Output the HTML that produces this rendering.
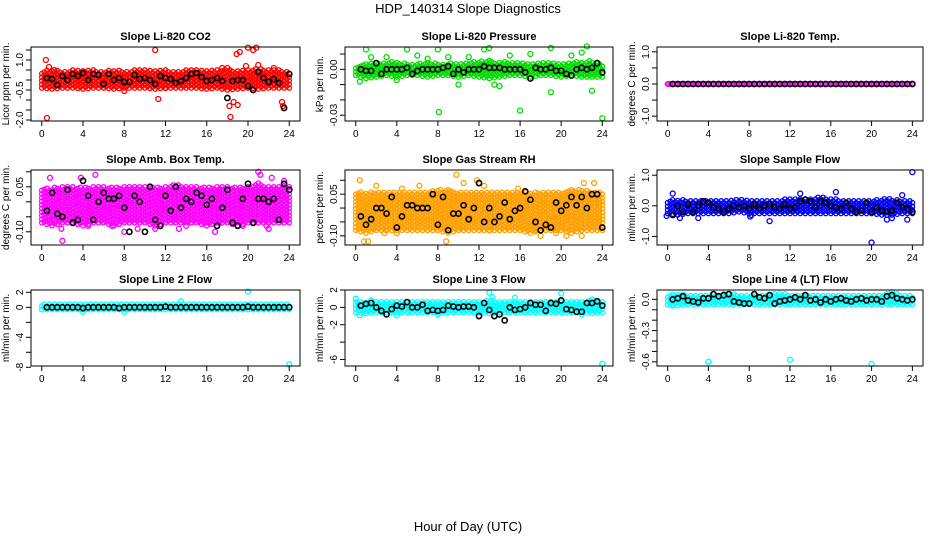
<!DOCTYPE html>
<html><head><meta charset="utf-8"><style>
html,body{margin:0;padding:0;background:#fff;}
svg{display:block;font-family:"Liberation Sans",Arial,sans-serif;}
</style></head><body>
<svg id="chart" width="936" height="540" viewBox="0 0 936 540">
<text x="468" y="13" text-anchor="middle" font-size="13">HDP_140314  Slope Diagnostics</text>
<text x="468" y="531" text-anchor="middle" font-size="13">Hour of Day (UTC)</text>
</svg>
<script>
// ---- data ----
const xTicks=[0,4,8,12,16,20,24];
// P1 CO2
const co2Black=[0.1,0.05,-0.25,0.2,0.0,0.3,0.2,0.35,0.0,0.3,0.25,-0.2,0.3,0.0,0.1,-0.1,-0.1,0.25,0.05,0.1,0.0,-0.2,0.2,0.1,0.05,-0.15,-0.05,0.1,0.3,0.35,0.15,-0.05,0.0,0.1,-0.05,-0.9,-0.05,0.0,0.0,-0.3,-0.5,0.4,0.1,-0.1,0.05,-0.15,-1.4,0.3];
const co2Lo=[-0.4,-0.45,-0.4,-0.4,-0.45,-0.4,-0.4,-0.45,-0.4,-0.4,-0.4,-0.45,-0.4,-0.4,-0.4,-0.4,-0.45,-0.4,-0.5,-0.45,-0.4,-0.45,-0.4,-0.4,-0.4];
const co2Hi=[0.45,0.5,0.45,0.5,0.45,0.5,0.45,0.5,0.45,0.5,0.5,0.45,0.5,0.45,0.5,0.5,0.45,0.5,0.55,0.5,0.5,0.6,0.5,0.5,0.45];
const co2OutX=[0.4,0.5,0.7,11,11.3,18,18.2,18.3,18.6,19,18.9,19.2,19.8,20,20.5,20.8,21,23.3,23.4,22.5,12,8,1.2,17.5];
const co2OutY=[1.0,-1.9,0.65,1.5,-0.95,0.6,-1.3,-1.85,-1.1,-1.25,1.3,1.4,0.7,1.62,1.5,1.62,0.75,-1.1,-1.3,0.6,-0.4,-0.55,0.5,0.6];
// P2 Pressure
const presBlack=[0,-0.001,-0.001,0.004,-0.003,0,0,0,0,0.001,-0.003,-0.001,0,0,0,0,0.001,0.002,-0.003,0,-0.002,0,0,0,0.002,0.001,0.001,0.001,0,0,0,0,-0.002,-0.006,0.001,0,0,0.001,-0.001,-0.001,-0.003,-0.004,0,0.001,0,0.001,0.004,-0.002];
const presLo=[-0.004,-0.006,-0.005,-0.004,-0.005,-0.004,-0.004,-0.005,-0.004,-0.004,-0.005,-0.004,-0.005,-0.006,-0.005,-0.004,-0.004,-0.005,-0.004,-0.004,-0.005,-0.004,-0.005,-0.005,-0.005];
const presHi=[0.003,0.004,0.004,0.005,0.005,0.004,0.004,0.005,0.004,0.004,0.004,0.005,0.006,0.006,0.005,0.005,0.005,0.004,0.005,0.005,0.004,0.005,0.005,0.006,0.004];
const presOutX=[8.1,16,24,1,5,8,12.5,13,19,22.5,0.4,4,19,23,10,13.5,14,1.5,3,6,9,15,17,21,22,11,7];
const presOutY=[-0.028,-0.027,-0.032,0.013,0.013,0.013,0.013,0.014,0.014,0.015,-0.008,-0.007,-0.015,-0.014,-0.01,-0.01,-0.011,0.008,0.008,0.009,0.008,0.009,0.01,0.009,0.011,0.008,0.007];
// P3 Temp
const tempBlack=[0,0,0,0,0,0,0,0,0,0,0,0,0,0,0,0,0,0,0,0,0,0,0,0,0,0,0,0,0,0,0,0,0,0,0,0,0,0,0,0,0,0,0,0,0,0,0,0];
const tempLo=[0,0,0,0,0,0,0,0,0,0,0,0,0,0,0,0,0,0,0,0,0,0,0,0,0];
const tempHi=[0,0,0,0,0,0,0,0,0,0,0,0,0,0,0,0,0,0,0,0,0,0,0,0,0];
const tempOutX=[0.1];
const tempOutY=[0];
// P4 Amb box temp
const ambBlack=[-0.03,0.03,-0.04,-0.05,0.04,-0.07,-0.06,0.07,0.02,-0.06,0.0,0.03,0.01,0.01,0.02,-0.02,-0.1,0.02,0.0,-0.1,0.05,-0.06,-0.08,0.02,-0.03,0.05,-0.02,0.01,0.0,0.03,0.02,-0.01,0.01,-0.08,-0.02,0.04,-0.07,-0.08,0.01,0.06,-0.07,0.01,0.01,0.0,0.01,-0.06,0.06,0.04];
const ambLo=[-0.07,-0.08,-0.07,-0.07,-0.08,-0.07,-0.07,-0.08,-0.07,-0.07,-0.07,-0.08,-0.07,-0.07,-0.07,-0.07,-0.08,-0.07,-0.07,-0.08,-0.07,-0.07,-0.07,-0.07,-0.07];
const ambHi=[0.04,0.05,0.05,0.05,0.05,0.05,0.05,0.05,0.05,0.05,0.05,0.05,0.05,0.06,0.05,0.05,0.05,0.05,0.05,0.05,0.05,0.07,0.05,0.05,0.05];
const ambOutX=[0.8,1.9,2.0,3.8,5.2,6.8,8,9.3,11,13.3,14,16.8,17,17.2,21,21.2,21.8,22,22.3,23.5,4.5,19.5];
const ambOutY=[0.08,-0.09,-0.13,0.08,0.09,-0.08,-0.1,-0.09,-0.09,-0.09,-0.08,-0.1,-0.08,-0.07,0.1,0.09,-0.08,-0.09,0.08,0.07,-0.08,-0.08];
// P5 Gas stream RH
const rhBlack=[-0.03,-0.06,-0.04,0.0,0.0,-0.02,0.04,-0.07,-0.03,0.01,0.01,0.0,0.0,0.0,0.05,-0.06,0.04,-0.08,-0.02,-0.02,0.01,-0.04,0.0,0.09,-0.05,0.0,-0.05,-0.03,0.02,-0.04,-0.01,0.0,0.06,0.03,-0.05,-0.08,-0.06,-0.07,0.02,-0.01,0.01,0.04,0.01,0.04,0.0,0.05,0.05,-0.07];
const rhLo=[-0.08,-0.09,-0.08,-0.08,-0.08,-0.08,-0.08,-0.08,-0.08,-0.09,-0.08,-0.08,-0.08,-0.08,-0.08,-0.08,-0.08,-0.09,-0.08,-0.08,-0.08,-0.09,-0.08,-0.08,-0.08];
const rhHi=[0.06,0.06,0.06,0.06,0.06,0.06,0.06,0.06,0.07,0.07,0.06,0.06,0.06,0.06,0.06,0.06,0.06,0.06,0.06,0.06,0.06,0.07,0.07,0.06,0.06];
const rhOutX=[0.4,0.8,1.2,2,2.8,4,6.2,8.8,9.8,10.5,11.8,12.5,15.8,17.5,18,19.5,20.5,22,22.2,23.2,4.5,13,3];
const rhOutY=[0.1,-0.12,-0.12,0.08,-0.09,-0.09,0.08,-0.12,0.12,0.09,0.1,0.08,0.07,-0.08,-0.1,-0.09,-0.1,-0.1,0.09,0.09,0.07,-0.08,-0.08];
// P6 Sample flow
const sfBlack=[-0.3,0.0,-0.2,0.05,-0.2,0.0,0.15,0.1,-0.05,-0.1,-0.2,-0.1,0.0,-0.05,0.0,-0.1,0.05,-0.1,0.0,0.05,-0.05,-0.1,0.05,-0.1,-0.05,0.15,0.2,0.15,-0.05,0.15,0.1,0.0,-0.05,-0.1,0.1,-0.1,-0.2,-0.15,0.1,-0.2,-0.05,-0.15,-0.2,-0.15,0.1,-0.05,-0.1,-0.2];
const sfLo=[-0.25,-0.3,-0.25,-0.25,-0.25,-0.25,-0.25,-0.2,-0.25,-0.25,-0.25,-0.25,-0.25,-0.25,-0.25,-0.25,-0.25,-0.25,-0.25,-0.25,-0.25,-0.3,-0.3,-0.25,-0.25];
const sfHi=[0.2,0.2,0.2,0.2,0.2,0.2,0.2,0.2,0.2,0.2,0.2,0.2,0.25,0.25,0.25,0.3,0.25,0.2,0.2,0.2,0.2,0.25,0.25,0.2,0.2];
const sfOutX=[24,20,10,0.5,-0.1,8.1,8.2,13,16.5,23,1.2,3,21.5,22,23.5];
const sfOutY=[1.1,-1.2,-0.5,0.4,-0.33,-0.35,-0.3,0.4,0.45,0.35,-0.4,-0.4,-0.45,-0.4,-0.45];
// P7 Line 2 flow
const l2Black=[0,0,0,0,0,0,0,-0.1,0,0,0,0,0,0,-0.1,0,0,0,0,0,0,0,0,0.1,0,0,0,0,0,0,0,0,0,0,0,0,0,0,0,0.1,0,0,0,0,0,0,0,0];
const l2Lo=[-0.3,-0.3,-0.3,-0.3,-0.3,-0.3,-0.3,-0.3,-0.3,-0.3,-0.3,-0.3,-0.3,-0.3,-0.3,-0.3,-0.3,-0.3,-0.3,-0.3,-0.3,-0.3,-0.3,-0.3,-0.3];
const l2Hi=[0.5,0.5,0.5,0.5,0.5,0.6,0.5,0.5,0.5,0.6,0.6,0.6,0.5,0.5,0.5,0.5,0.5,0.5,0.6,0.5,0.5,0.5,0.5,0.5,0.5];
const l2OutX=[20,24,4,8,13.5];
const l2OutY=[2.1,-7.6,-0.6,-0.6,0.8];
// P8 Line 3 flow
const l3Black=[0.2,0.4,0.5,0.0,-0.4,-0.8,-0.2,0.2,0.1,0.6,0.0,0.0,0.3,-0.4,-0.3,-0.4,-0.3,0.2,0.1,0.0,0.1,0.1,0.0,-1.0,0.5,-0.3,-1.0,-0.8,-1.5,0.0,-0.3,-0.2,0.0,0.5,0.3,0.3,-0.4,0.5,0.4,0.8,-0.2,-0.3,-0.5,-0.5,0.5,0.5,0.7,0.2];
const l3Lo=[-0.6,-0.7,-0.6,-0.6,-0.6,-0.6,-0.6,-0.6,-0.6,-0.6,-0.6,-0.6,-0.6,-0.7,-0.6,-0.6,-0.6,-0.6,-0.6,-0.6,-0.6,-0.6,-0.6,-0.7,-0.6];
const l3Hi=[0.7,0.7,0.7,0.7,0.7,0.7,0.7,0.7,0.7,0.7,0.7,0.7,0.7,0.8,0.7,0.7,0.7,0.7,0.7,0.7,0.7,0.7,0.8,0.8,0.7];
const l3OutX=[24,13,20,0,0.4,4,13.3,15.5,22,23,1.5,8];
const l3OutY=[-6.5,1.7,1.6,1.0,-0.9,-0.9,1.2,1.1,-0.8,0.9,0.8,-0.8];
// P9 Line 4 flow
const l4Black=[0.0,0.01,0.03,-0.01,-0.02,-0.03,0.01,0.01,0.05,0.03,0.04,0.05,-0.02,-0.03,-0.04,-0.04,0.05,0.02,0.01,0.04,-0.04,-0.02,-0.01,0.0,0.02,0.0,0.04,-0.01,0.0,-0.03,0.0,-0.02,0.0,0.01,-0.01,-0.02,0.0,0.01,-0.01,0.0,0.0,-0.02,0.03,0.04,0.01,0.0,-0.01,0.0];
const l4Lo=[-0.05,-0.06,-0.05,-0.05,-0.05,-0.05,-0.05,-0.05,-0.05,-0.05,-0.05,-0.05,-0.05,-0.05,-0.05,-0.05,-0.05,-0.05,-0.05,-0.05,-0.05,-0.05,-0.05,-0.05,-0.05];
const l4Hi=[0.05,0.05,0.05,0.05,0.05,0.05,0.06,0.05,0.05,0.05,0.05,0.06,0.05,0.05,0.05,0.05,0.05,0.05,0.05,0.05,0.05,0.05,0.06,0.05,0.05];
const l4OutX=[4,12,20,0.5,22];
const l4OutY=[-0.6,-0.58,-0.62,-0.06,0.07];

// ---- layout ----
const cols=[[31,300],[345,613],[657,923]];
const rows=[[47,121],[170,245],[290,366]];
const panels=[
 {name:'co2',title:'Slope Li-820 CO2',ylab:'Licor ppm per min.',col:0,row:0,dom:[-2.05,1.65],ticks:[-2,-1.5,-1,-0.5,0,0.5,1,1.5],labels:['-2.0','','','-0.5','','','1.0',''],color:'#ff0000',black:co2Black,lo:co2Lo,hi:co2Hi,ox:co2OutX,oy:co2OutY},
 {name:'pressure',title:'Slope Li-820 Pressure',ylab:'kPa per min.',col:1,row:0,dom:[-0.0338,0.0146],ticks:[-0.03,-0.02,-0.01,0,0.01],labels:['-0.03','','','0.00',''],color:'#00dd00',black:presBlack,lo:presLo,hi:presHi,ox:presOutX,oy:presOutY},
 {name:'temp',title:'Slope Li-820 Temp.',ylab:'degrees C per min.',col:2,row:0,dom:[-1.15,1.15],ticks:[-1,-0.5,0,0.5,1],labels:['-1.0','','0.0','','1.0'],color:'#ff00ff',black:tempBlack,lo:tempLo,hi:tempHi,ox:tempOutX,oy:tempOutY},
 {name:'amb-box-temp',title:'Slope Amb. Box Temp.',ylab:'degrees C per min.',col:0,row:1,dom:[-0.144,0.106],ticks:[-0.1,-0.05,0,0.05,0.1],labels:['-0.10','','','0.05',''],color:'#ff00ff',black:ambBlack,lo:ambLo,hi:ambHi,ox:ambOutX,oy:ambOutY},
 {name:'gas-rh',title:'Slope Gas Stream RH',ylab:'percent per min.',col:1,row:1,dom:[-0.133,0.137],ticks:[-0.1,-0.05,0,0.05,0.1],labels:['-0.10','','','0.05',''],color:'#ffa000',black:rhBlack,lo:rhLo,hi:rhHi,ox:rhOutX,oy:rhOutY},
 {name:'sample-flow',title:'Slope Sample Flow',ylab:'ml/min per min.',col:2,row:1,dom:[-1.28,1.17],ticks:[-1,0,1],labels:['-1.0','0.0','1.0'],color:'#0000ff',black:sfBlack,lo:sfLo,hi:sfHi,ox:sfOutX,oy:sfOutY},
 {name:'line2-flow',title:'Slope Line 2 Flow',ylab:'ml/min per min.',col:0,row:2,dom:[-7.83,2.31],ticks:[-8,-6,-4,-2,0,2],labels:['-8','','-4','','0','2'],color:'#00ffff',black:l2Black,lo:l2Lo,hi:l2Hi,ox:l2OutX,oy:l2OutY},
 {name:'line3-flow',title:'Slope Line 3 Flow',ylab:'ml/min per min.',col:1,row:2,dom:[-6.75,2.0],ticks:[-6,-4,-2,0,2],labels:['-6','','-2','0','2'],color:'#00ffff',black:l3Black,lo:l3Lo,hi:l3Hi,ox:l3OutX,oy:l3OutY},
 {name:'line4-flow',title:'Slope Line 4 (LT) Flow',ylab:'ml/min per min.',col:2,row:2,dom:[-0.64,0.09],ticks:[-0.6,-0.5,-0.4,-0.3,-0.2,-0.1,0],labels:['-0.6','','','-0.3','','','0.0'],color:'#00ffff',black:l4Black,lo:l4Lo,hi:l4Hi,ox:l4OutX,oy:l4OutY}
];
const NS='http://www.w3.org/2000/svg';
const svg=document.getElementById('chart');
function mk(tag,attrs,parent){const e=document.createElementNS(NS,tag);for(const k in attrs)e.setAttribute(k,attrs[k]);(parent||svg).appendChild(e);return e;}

panels.forEach(p=>{
 const [L,R]=cols[p.col],[T,B]=rows[p.row];
 const x0=L+(R-L)*0.04,x1=R-(R-L)*0.04;
 const xs=h=>x0+(x1-x0)*h/24;
 const ys=v=>B-(B-T)*(v-p.dom[0])/(p.dom[1]-p.dom[0]);
 const g=mk('g',{});
 
 
 const t=mk('text',{x:(L+R)/2,y:T-7,'text-anchor':'middle','font-size':11,'font-weight':'bold'},g);
 t.textContent=p.title;
 
 
 const yl=mk('text',{x:0,y:0,'text-anchor':'middle','font-size':10,transform:`translate(${L-22},${(T+B)/2}) rotate(-90)`},g);
 yl.textContent=p.ylab;
 
 
 // cloud
 const cg=mk('g',{fill:'none',stroke:p.color,'stroke-width':1.3},g);
 
 
 let col=0;
 for(let h=0;h<=24.001;h+=0.25,col++){
  const i=Math.min(23,Math.floor(h)),f=h-i;
  const lo=p.lo[i]+(p.lo[i+1]-p.lo[i])*f,hi=p.hi[i]+(p.hi[i+1]-p.hi[i])*f;
  const yTop=ys(hi),yBot=ys(lo);
  for(let y=yBot-(col%2)*1.8;y>=yTop-0.01;y-=3.6){
   const c=mk('circle',{cx:xs(h).toFixed(1),cy:y.toFixed(1),r:2.2},cg);
   
   
  }
  if(yBot-yTop<3){const c=mk('circle',{cx:xs(h).toFixed(1),cy:((yTop+yBot)/2).toFixed(1),r:2.2},cg);
   
   }
 }
 p.ox.forEach((h,k)=>{
  const c=mk('circle',{cx:xs(h),cy:ys(p.oy[k]),r:2.5},cg);
  
  
 });
 const bg=mk('g',{fill:'none',stroke:'#000','stroke-width':1.6},g);
 
 
 p.black.forEach((v,k)=>{
  const c=mk('circle',{cx:xs(0.5+k*0.5),cy:ys(v),r:2.6},bg);
  
  
 });
 const bx=mk('rect',{x:L,y:T,width:R-L,height:B-T,fill:'none',stroke:'#000','stroke-width':1},g);
 
 
 xTicks.forEach(v=>{
  const ln=mk('line',{x1:xs(v),x2:xs(v),y1:B,y2:B+5,stroke:'#000'},g);
  
  
  const tx=mk('text',{x:xs(v),y:B+16,'text-anchor':'middle','font-size':10},g);
  tx.textContent=v;
  
  
 });
 p.ticks.forEach((v,k)=>{
  const ln=mk('line',{x1:L-5,x2:L,y1:ys(v),y2:ys(v),stroke:'#000'},g);
  
  
  if(p.labels[k]){
   const tx=mk('text',{x:0,y:0,'text-anchor':'middle','font-size':10,transform:`translate(${L-8},${ys(v)}) rotate(-90)`},g);
   tx.textContent=p.labels[k];
   
   
  }
 });
});
</script>
</body></html>
